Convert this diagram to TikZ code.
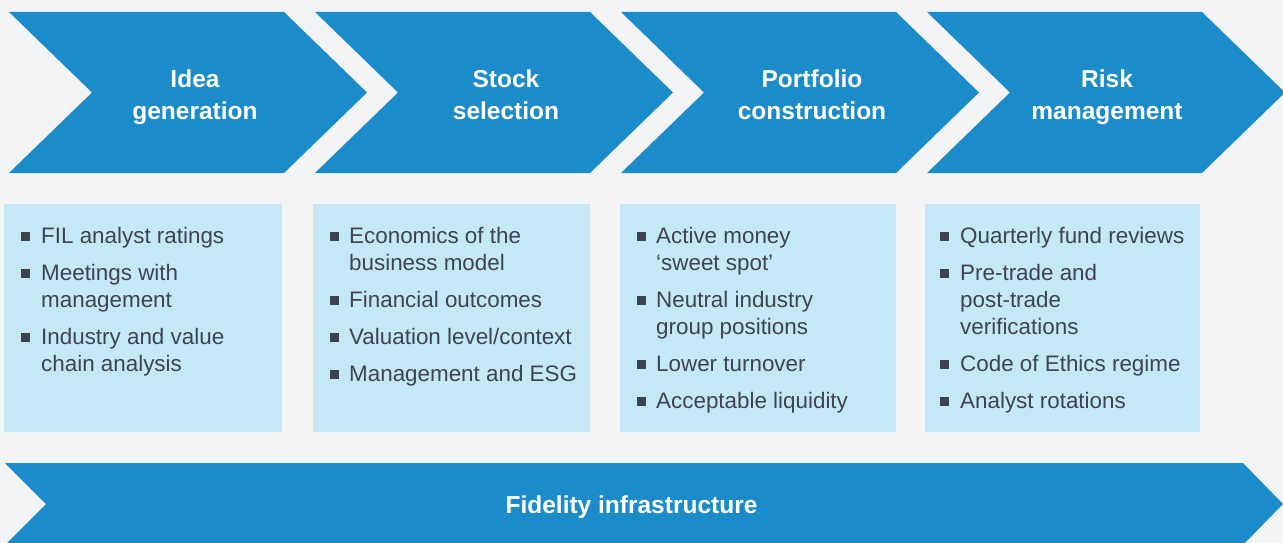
\documentclass[tikz,border=0pt]{standalone}
\usepackage{fontspec}
\setmainfont{Liberation Sans}
\definecolor{fidblue}{RGB}{27,139,201}
\definecolor{fidlight}{RGB}{197,232,247}
\definecolor{fidbg}{RGB}{243,244,246}
\definecolor{fidtext}{RGB}{61,68,80}
\tikzset{
	stage/.style={fill=fidblue},
	panel/.style={fill=fidlight},
	stagetitle/.style={inner sep=0,anchor=base,text=white,font=\fontsize{24.5}{30}\selectfont\bfseries},
	itemtext/.style={inner sep=0,anchor=base west,text=fidtext,font=\fontsize{22.4}{27}\selectfont},
	bulletsq/.style={fill=fidtext}
}
\begin{document}
\begin{tikzpicture}[x=1pt,y=-1pt]
	\fill[fidbg] (0,0) rectangle (1283,543);
	\useasboundingbox (0,0) rectangle (1283,543);
	\clip (0,0) rectangle (1283,543);

	% process arrows
	\foreach \i/\cx/\a/\b in {0/195/Idea/generation,1/506/Stock/selection,2/812/Portfolio/construction,3/1107/Risk/management}{
		\pgfmathsetmacro{\xa}{9+306*\i}
		\fill[stage] (\xa,12) -- ++(275,0) -- ++(83,80.5) -- ++(-83,80.5) -- ++(-275,0) -- ++(83,-80.5) -- cycle;
		\node[stagetitle] (s\i a) at (\cx,88) {\a};
		\node[stagetitle] (s\i b) at (\cx,119.5) {\b};
	}

	% panels
	\foreach \xa/\xb in {4/282,313/590,620/896,925/1200}
		\fill[panel] (\xa,204) rectangle (\xb,432);

	\foreach \y/\f/\t [count=\n] in {243/1/FIL analyst ratings,280/1/Meetings with,307/0/management,344/1/Industry and value,371/0/chain analysis}{
		\ifnum\f=1 \fill[bulletsq] (21,\y-11.5) rectangle ++(9,9); \fi
		\node[itemtext] (pa\n) at (41,\y) {\t};
	}
	\foreach \y/\f/\t [count=\n] in {243/1/Economics of the,270/0/business model,307/1/Financial outcomes,344/1/{Valuation level/context},381/1/Management and ESG}{
		\ifnum\f=1 \fill[bulletsq] (330,\y-11.5) rectangle ++(9,9); \fi
		\node[itemtext] (pb\n) at (349,\y) {\t};
	}
	\foreach \y/\f/\t [count=\n] in {243/1/Active money,270/0/‘sweet spot’,307/1/Neutral industry,334/0/group positions,371/1/Lower turnover,408/1/Acceptable liquidity}{
		\ifnum\f=1 \fill[bulletsq] (637,\y-11.5) rectangle ++(9,9); \fi
		\node[itemtext] (pc\n) at (656,\y) {\t};
	}
	\foreach \y/\f/\t [count=\n] in {243/1/Quarterly fund reviews,280/1/Pre-trade and,307/0/post-trade,334/0/verifications,371/1/Code of Ethics regime,408/1/Analyst rotations}{
		\ifnum\f=1 \fill[bulletsq] (940,\y-11.5) rectangle ++(9,9); \fi
		\node[itemtext] (pd\n) at (960,\y) {\t};
	}

	% base bar
	\fill[stage] (5,463) -- (1243,463) -- (1283,504) -- (1243,545) -- (5,545) -- (46,504) -- cycle;
	\node[stagetitle] (infra) at (631.5,513) {Fidelity infrastructure};
\end{tikzpicture}
\end{document}
